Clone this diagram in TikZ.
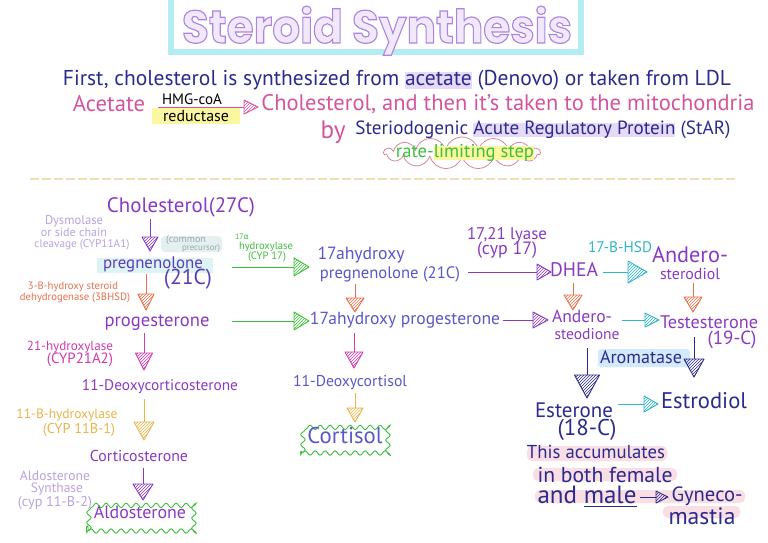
\documentclass[tikz,border=0pt]{standalone}
\usepackage{fontspec}
\setmainfont{PT Sans}
\newfontfamily\titlefont{Poppins}
\newfontfamily\gkfont{DejaVu Sans}
\usetikzlibrary{patterns,decorations.pathmorphing,shapes.symbols,calc}
\definecolor{cNavy}{HTML}{2B2B8E}
\definecolor{cPink}{HTML}{D4559E}
\definecolor{cPurp}{HTML}{8A3AC2}
\definecolor{cVblue}{HTML}{5A58C8}
\definecolor{cPreg}{HTML}{5B3CB8}
\definecolor{cGrn}{HTML}{3CC03C}
\definecolor{cOred}{HTML}{E8704C}
\definecolor{cMag}{HTML}{D23AAE}
\definecolor{cYor}{HTML}{E9B44A}
\definecolor{cLav}{HTML}{B8A4DE}
\definecolor{cTeal}{HTML}{2EB5C8}
\definecolor{cTcyan}{HTML}{B4ECF4}
\definecolor{hLav}{HTML}{E6DAF8}
\definecolor{hYel}{HTML}{FBF6A0}
\definecolor{hPink}{HTML}{F9DEE3}
\definecolor{hBlue}{HTML}{D2EAFB}
\definecolor{hCyan}{HTML}{DDF4F4}
\definecolor{hGrey}{HTML}{E6EFF0}
\definecolor{cDash}{HTML}{F2DCB2}
\definecolor{cCloud}{HTML}{D48A96}
\definecolor{cTout}{HTML}{B48DE0}
\definecolor{cGreyt}{HTML}{93AAAA}
\newlength\hlw
\newcommand\hl[2]{\settowidth\hlw{#2}\rlap{\textcolor{#1}{\rule[-0.15em]{\hlw}{0.75em}}}#2}
\newcommand\fw[2]{\resizebox{#1pt}{!}{\vphantom{Ag(}#2}}
\newcommand\fx[2]{\resizebox{#1pt}{!}{#2}}
\newcommand\darr[5]{%
 \draw[#1,line width=.9pt] (#2) -- ($(#3)+(0,-#5)$);
 \draw[#1,line width=.9pt,line join=round,pattern=north east lines,pattern color=#1] ($(#3)+(-#4,-#5)$) -- ($(#3)+(#4,-#5)$) -- (#3) -- cycle;}
\newcommand\rarr[5]{%
 \draw[#1,line width=.9pt] (#2) -- ($(#3)+(-#5,0)$);
 \draw[#1,line width=.9pt,line join=round,pattern=north east lines,pattern color=#1] ($(#3)+(-#5,-#4)$) -- ($(#3)+(-#5,#4)$) -- (#3) -- cycle;}
\tikzset{t/.style={inner sep=0pt, outer sep=0pt},
 wavy/.style={draw=cGrn, line width=.9pt, decorate, decoration={snake, amplitude=2.2pt, segment length=10pt}}}
\begin{document}
\begin{tikzpicture}[x=1pt,y=-1pt]
\useasboundingbox (0,0) rectangle (768,542);
\fill[white] (0,0) rectangle (768,542);
% title
\draw[cTcyan, line width=6pt] (171,-10) rectangle (581,52);
\node[t,text=cTout,anchor=base] (title) at (377,43) {\resizebox{390pt}{37pt}{\special{pdf:literal direct 2 Tr 0.25 w 0.68 0.52 0.88 RG 0.95 0.91 0.99 rg}\titlefont\bfseries Steroid Synthesis\special{pdf:literal direct 0 Tr}}};
% intro lines
\node[t,text=cNavy] (l1) at (397,80) {\fw{668}{First, cholesterol is synthesized from \hl{hLav}{acetate} (Denovo) or taken from LDL}};
\node[t,text=cPink] (acet) at (109,106) {\fw{72}{Acetate}};
\fill[hYel] (152,108) rectangle (240,124);
\node[t] (hmg) at (192,99) {\fx{60}{HMG-coA}};
\node[t] (redu) at (196,116) {\fx{66}{reductase}};
\coordinate (a0s) at (158,107); \coordinate (a0e) at (258,107);
\rarr{cPink}{a0s}{a0e}{7}{14}
\node[t,text=cPink] (l2) at (508,105) {\fw{493}{Cholesterol, and then it's taken to the mitochondria}};
\node[t,text=cPink] (by) at (333,132) {\fw{25}{by}};
\node[t,text=cNavy] (star) at (543,129.5) {\fx{375}{Steriodogenic \hl{hLav}{Acute Regulatory Protein} (StAR)}};
\node[cloud, cloud puffs=15, aspect=4.8, draw=cCloud, line width=.8pt, minimum width=156pt, minimum height=32pt] (cloud) at (462,153) {};
\node[t,text=cGrn] (rls) at (465,152.5) {\fx{138}{rate-\hl{hYel}{limiting step}}};
\draw[cDash, line width=1.8pt, dash pattern=on 9pt off 3pt] (30,179) -- (736,179);
% left column
\node[t,text=cPurp] (cho) at (181,207) {\fw{148}{Cholesterol(27C)}};
\coordinate (a1s) at (150,219); \coordinate (a1e) at (150,251);
\darr{cPurp}{a1s}{a1e}{8}{14}
\node[t,text=cLav] (dys1) at (74,221.5) {\fx{58}{Dysmolase}};
\node[t,text=cLav] (dys2) at (74,232.5) {\fx{66}{or side chain}};
\node[t,text=cLav] (dys3) at (82,245) {\fx{95}{cleavage (CYP11A1)}};
\fill[hGrey, rounded corners=4pt] (161,236) rectangle (222,252);
\node[t,text=cGreyt] (com1) at (186,240) {\fx{40}{(common}};
\node[t,text=cGreyt] (com2) at (201,248) {\fx{38}{precursor)}};
\fill[hCyan] (97,258) rectangle (213,273);
\node[t,text=cPreg] (preg) at (153,264) {\fw{100}{pregnenolone}};
\node[t,text=cPreg] (preg2) at (188,279) {\fx{48}{(21C)}};
\coordinate (a2s) at (146,274); \coordinate (a2e) at (146,310);
\darr{cOred}{a2s}{a2e}{8}{16}
\node[t,text=cOred] (hsd1) at (73,287) {\fx{90}{3-B-hydroxy steroid}};
\node[t,text=cOred] (hsd2) at (75,298) {\fx{110}{dehydrogenase (3BHSD)}};
\node[t,text=cPurp] (prog) at (157,322) {\fw{105}{progesterone}};
\coordinate (a3s) at (144,333); \coordinate (a3e) at (144,370);
\darr{cMag}{a3s}{a3e}{8.5}{17}
\node[t,text=cMag] (h21a) at (70,347) {\fx{86}{21-hydroxylase}};
\node[t,text=cMag] (h21b) at (80,360) {\fx{66}{(CYP21A2)}};
\node[t,text=cPurp] (doc) at (160,387) {\fw{156}{11-Deoxycorticosterone}};
\coordinate (a4s) at (144,399); \coordinate (a4e) at (144,440);
\darr{cYor}{a4s}{a4e}{10}{18}
\node[t,text=cYor] (h11a) at (67,415) {\fx{101}{11-B-hydroxylase}};
\node[t,text=cYor] (h11b) at (79,430) {\fx{72}{(CYP 11B-1)}};
\node[t,text=cPurp] (cort) at (139,458) {\fw{98}{Corticosterone}};
\coordinate (a5s) at (143,468); \coordinate (a5e) at (143,500);
\darr{cPurp}{a5s}{a5e}{10}{16}
\node[t,text=cLav] (as1) at (55,476) {\fx{70}{Aldosterone}};
\node[t,text=cLav] (as2) at (57,489) {\fx{52}{Synthase}};
\node[t,text=cLav] (as3) at (55,503) {\fx{74}{(cyp 11-B-2)}};
\node[t,text=cPurp,wavy,minimum width=104pt,minimum height=34pt] (aldo) at (140,514) {\fw{92}{Aldosterone}};
% green arrows
\coordinate (gAs) at (232,267); \coordinate (gAe) at (309,267);
\rarr{cGrn}{gAs}{gAe}{9}{15}
\coordinate (gBs) at (232,321); \coordinate (gBe) at (309,321);
\rarr{cGrn}{gBs}{gBe}{9}{15}
\node[t,text=cGrn] (g1) at (242,237) {\fx{14}{17{\gkfont α}}};
\node[t,text=cGrn] (g2) at (266,246.5) {\fx{54}{hydroxylase}};
\node[t,text=cGrn] (g3) at (267,257) {\fx{38}{(CYP 17)}};
% middle column
\node[t,text=cVblue] (ohp1) at (361,255) {\fw{87}{17ahydroxy}};
\node[t,text=cVblue] (ohp2) at (390,274) {\fx{140}{pregnenolone (21C)}};
\coordinate (m1s) at (355,284); \coordinate (m1e) at (355,312);
\darr{cOred}{m1s}{m1e}{9}{14}
\node[t,text=cVblue] (ohprog) at (405,320) {\fw{190}{17ahydroxy progesterone}};
\coordinate (m2s) at (354,333); \coordinate (m2e) at (354,368);
\darr{cMag}{m2s}{m2e}{9}{16}
\node[t,text=cVblue] (dcol) at (350,383) {\fw{114}{11-Deoxycortisol}};
\coordinate (m3s) at (355,393); \coordinate (m3e) at (355,422);
\darr{cYor}{m3s}{m3e}{8}{14}
\node[t,text=cVblue,wavy,minimum width=86pt,minimum height=30pt] (cortisol) at (345,438) {\fw{75}{Cortisol}};
% right part
\node[t,text=cPurp] (ly1) at (507,235) {\fx{80}{17,21 lyase}};
\node[t,text=cPurp] (ly2) at (507,250) {\fx{60}{(cyp 17)}};
\coordinate (r1s) at (468,272); \coordinate (r1e) at (551,272);
\rarr{cPurp}{r1s}{r1e}{8}{14}
\node[t,text=cPurp] (dhea) at (574,272) {\fw{48}{DHEA}};
\coordinate (r2s) at (603,272); \coordinate (r2e) at (647,272);
\rarr{cTeal}{r2s}{r2e}{11}{19}
\node[t,text=cTeal] (hsd17) at (620,247) {\fx{64}{17-B-HSD}};
\node[t,text=cPurp] (adi1) at (690,254.5) {\fx{76}{Andero-}};
\node[t,text=cPurp] (adi2) at (690,274) {\fx{60}{sterodiol}};
\coordinate (r3s) at (573,283); \coordinate (r3e) at (573,310);
\darr{cOred}{r3s}{r3e}{9}{15}
\coordinate (r4s) at (693,283); \coordinate (r4e) at (693,312);
\darr{cOred}{r4s}{r4e}{9}{15}
\coordinate (r5s) at (503,320); \coordinate (r5e) at (548,320);
\rarr{cPurp}{r5s}{r5e}{8}{15}
\node[t,text=cPurp] (ads1) at (582,316) {\fx{60}{Andero-}};
\node[t,text=cPurp] (ads2) at (587,334) {\fx{65}{steodione}};
\coordinate (r6s) at (622,320); \coordinate (r6e) at (659,320);
\rarr{cTeal}{r6s}{r6e}{7}{14}
\node[t,text=cPurp] (test1) at (709,322) {\fx{98}{Testesterone}};
\node[t,text=cPurp] (test2) at (732,340) {\fx{49}{(19-C)}};
\coordinate (r7s) at (587,348); \coordinate (r7e) at (587,398);
\darr{cNavy}{r7s}{r7e}{12.5}{23}
\fill[hBlue, rounded corners=3pt] (598,349) rectangle (690,367);
\node[t,text=cNavy] (arom) at (641,357) {\fx{82}{Aromatase}};
\coordinate (r8s) at (694,337); \coordinate (r8e) at (694,377);
\darr{cNavy}{r8s}{r8e}{10}{18}
\node[t,text=cNavy] (est1) at (574,410) {\fx{78}{Esterone}};
\node[t,text=cNavy] (est2) at (587,430) {\fx{59}{(18-C)}};
\coordinate (r9s) at (618,404); \coordinate (r9e) at (658,404);
\rarr{cTeal}{r9s}{r9e}{8}{14}
\node[t,text=cNavy] (estd) at (704,403) {\fw{86}{Estrodiol}};
\fill[hPink, rounded corners=5pt] (527,446) rectangle (667,461);
\fill[hPink, rounded corners=5pt] (533,468) rectangle (677,481);
\fill[hPink, rounded corners=5pt] (535,490) rectangle (745,503);
\fill[hPink, rounded corners=5pt] (663,506) rectangle (740,518);
\node[t,text=cNavy] (acc1) at (596,452) {\fx{138}{This accumulates}};
\node[t,text=cNavy] (acc2) at (605,475) {\fx{135}{in both female}};
\node[t,text=cNavy] (acc3) at (587,497) {\fx{99}{and \underline{male}}};
\coordinate (r10s) at (640,497); \coordinate (r10e) at (668,497);
\rarr{cNavy}{r10s}{r10e}{6}{12}
\node[t,text=cNavy] (gyn1) at (707,496) {\fx{71}{Gyneco-}};
\node[t,text=cNavy] (gyn2) at (702,516) {\fx{67}{mastia}};
\end{tikzpicture}
\end{document}
